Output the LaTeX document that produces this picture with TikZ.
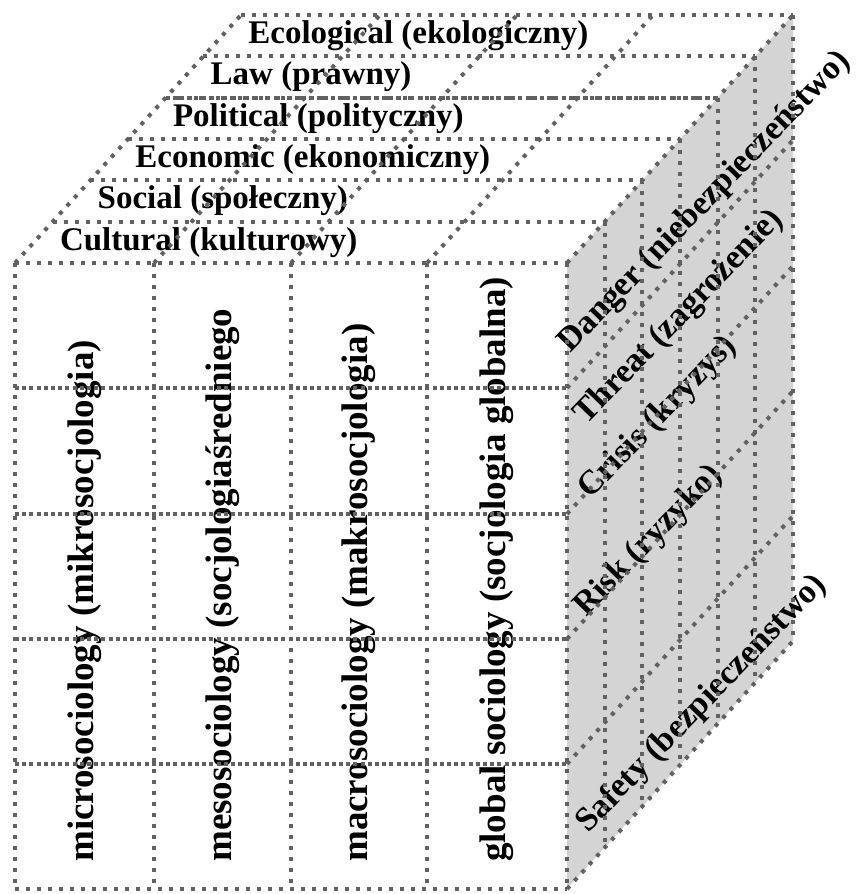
\documentclass[tikz,border=0pt]{standalone}
\usepackage{fontspec}
\setmainfont{Liberation Serif}
\usepackage{tikz}
\usetikzlibrary{calc}

\begin{document}
\begin{tikzpicture}[x=1pt, y=-1pt,
        dots/.style={line width=4pt, black!62, dash pattern=on 4pt off 7pt},
        densedots/.style={line width=4pt, black!62, dash pattern=on 4pt off 3.2pt},
        toplbl/.style={font=\fontsize{33}{36}\selectfont\bfseries, inner sep=0pt, anchor=west},
        frontlbl/.style={font=\fontsize{37}{40}\selectfont\bfseries, inner sep=0pt, anchor=west, rotate=90},
        sidelbl/.style={font=\fontsize{34}{38}\selectfont\bfseries, inner sep=0pt, anchor=base west, rotate=46}]
        \useasboundingbox (0,0) rectangle (861,894);
        \def\dx{226}
        \def\dy{248}
        \def\L{15} \def\R{567} \def\T{263} \def\B{889}

        % side face
        \fill[black!17] (\R,\T) -- ++(\dx,-\dy) -- ++(0,\B-\T) -- (\R,\B) -- cycle;

        % labels
        \foreach \t [count=\k] in {Cultural (kulturowy), Social (społeczny), Economic (ekonomiczny),
                Political (polityczny), Law (prawny), Ecological (ekologiczny)}
            \node[toplbl] (top\k) at ({\L+\dx*(\k-.5)/6+26},{\T-\dy*(\k-.5)/6}) {\t};
        \foreach \x/\t [count=\k] in {84.5/microsociology (mikrosocjologia),
                222.5/mesosociology (socjologiaśredniego, 359/macrosociology (makrosocjologia),
                497/global sociology (socjologia globalna)}
            \node[frontlbl] (front\k) at (\x,862) {\t};
        \foreach \x/\y/\t [count=\k] in {570/354/Danger (niebezpieczeństwo), 586/426/Threat (zagrożenie),
                590/500/Crisis (kryzys), 586/618/Risk (ryzyko), 588/834/Safety (bezpieczeństwo)}
            \node[sidelbl] (side\k) at (\x,\y) {\t};

        % front grid
        \foreach \x in {15,154,291,427,567}
            \draw[dots] (\x,\T) -- (\x,\B);
        \draw[dots] (\L,\T) -- (\R,\T) (\L,\B) -- (\R,\B);
        \foreach \y in {388,514,639,764}
            \draw[densedots] (\L,\y) -- (\R,\y);
        % top face
        \foreach \x in {15,154,291,427,567}
            \draw[dots] (\x,\T) -- ++(\dx,-\dy);
        \foreach \k in {1,...,6}
            \draw[dots] ({\L+\dx*\k/6},{\T-\dy*\k/6}) -- ++(\R-\L,0);
        \draw[densedots] ({\L+\dx*4/6},{\T-\dy*4/6}) -- ++(\R-\L,0);
        % side face
        \foreach \k in {1,...,6}
            \draw[dots] ({\R+\dx*\k/6},{\T-\dy*\k/6}) -- ++(0,\B-\T);
        \foreach \y in {388,514,639,764,889}
            \draw[dots] (\R,\y) -- ++(\dx,-\dy);
\end{tikzpicture}
\end{document}
